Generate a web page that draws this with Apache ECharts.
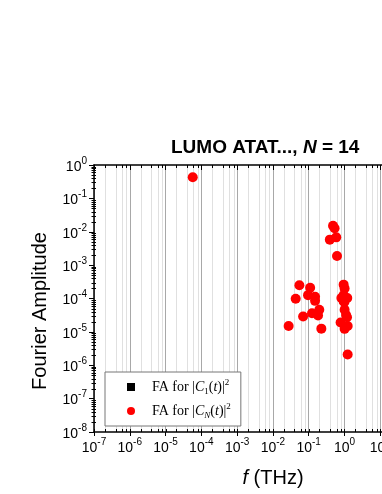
<!DOCTYPE html>
<html><head><meta charset="utf-8">
<script src="https://cdn.jsdelivr.net/npm/echarts@6/dist/echarts.min.js"></script>
<style>html,body{margin:0;padding:0;background:#fff}#c{width:382px;height:494px}</style>
</head><body><div id="c"></div>
<script>
// ---- data ----
const seriesNames = ['FA for |C_1(t)|^2', 'FA for |C_N(t)|^2'];
const freqC1 = [];          // hidden under the red markers / not visible
const amplitudeC1 = [];
const freqCN = [5.75e-5, 0.48, 0.53, 0.39, 0.59, 0.62, 0.055, 0.11, 0.0434, 0.096, 0.151, 0.151, 0.198, 0.124, 0.183, 0.070, 0.0275, 0.226,
  0.95, 1.01, 0.95, 1.0, 0.95, 0.82, 1.2, 1.0, 1.01, 1.11, 1.18, 0.78, 1.23, 1.01, 1.23];
const amplitudeCN = [0.43, 0.0152, 0.0127, 0.0058, 0.0068, 0.00188, 2.5e-4, 2.1e-4, 9.8e-5, 1.26e-4, 1.12e-4, 8.5e-5, 4.6e-5, 3.6e-5, 3.1e-5, 2.9e-5, 1.5e-5, 1.25e-5,
  2.6e-4, 2.0e-4, 1.28e-4, 9.5e-5, 8.1e-5, 1.04e-4, 1.04e-4, 7.9e-5, 4.6e-5, 3.2e-5, 2.75e-5, 1.9e-5, 1.5e-5, 1.23e-5, 2.1e-6];
const xExponents = [-7, -6, -5, -4, -3, -2, -1, 0, 1, 2];
const yExponents = [-8, -7, -6, -5, -4, -3, -2, -1, 0];
const xMinorMultipliers = [2, 4, 6, 8];
const yMinorMultipliers = [2, 3, 4, 5, 6, 7, 8, 9];
const titleParts = ['LUMO ATAT..., ', 'N', ' = 14'];
const yAxisTitle = 'Fourier Amplitude';
const xAxisTitleParts = ['f', ' (THz)'];

// ---- derived ----
const X_MIN = Math.pow(10, xExponents[0]), X_MAX = Math.pow(10, xExponents[xExponents.length - 1]);
const Y_MIN = Math.pow(10, yExponents[0]), Y_MAX = Math.pow(10, yExponents[yExponents.length - 1]);
const SANS = '"Liberation Sans", Arial, sans-serif';
const SERIF = '"Liberation Serif", "Times New Roman", serif';

const xMinor = [];
xExponents.slice(0, -1).forEach(e => xMinorMultipliers.forEach(m => xMinor.push([m * Math.pow(10, e), Y_MIN])));
const xMajor = xExponents.map(e => [Math.pow(10, e), Y_MIN]);
const yMinor = [];
yExponents.slice(0, -1).forEach(e => yMinorMultipliers.forEach(m => yMinor.push([X_MIN, m * Math.pow(10, e)])));

const dataC1 = freqC1.map((f, i) => [f, amplitudeC1[i]]);
const dataCN = freqCN.map((f, i) => [f, amplitudeCN[i]]);

const px = v => Math.round(v) + 0.5;
const tickLabel = v => '{b|10}{e|' + Math.round(Math.log10(v)) + '}';
const tickRich = {
  b: { fontFamily: SANS, fontSize: 14, color: '#000', lineHeight: 18, verticalAlign: 'bottom' },
  e: { fontFamily: SANS, fontSize: 10, color: '#000', lineHeight: 10, verticalAlign: 'top' }
};
const legendRich = {
  n0: { fontFamily: SERIF, fontSize: 14, color: '#000', lineHeight: 18, padding: [0, 0, 0, 12] },
  n: { fontFamily: SERIF, fontSize: 14, color: '#000', lineHeight: 18 },
  i: { fontFamily: SERIF, fontSize: 14, color: '#000', lineHeight: 18, fontStyle: 'italic' },
  sub: { fontFamily: SERIF, fontSize: 9, color: '#000', lineHeight: 9, verticalAlign: 'bottom' },
  subi: { fontFamily: SERIF, fontSize: 9, color: '#000', lineHeight: 9, verticalAlign: 'bottom', fontStyle: 'italic' },
  sup: { fontFamily: SERIF, fontSize: 9, color: '#000', lineHeight: 9, verticalAlign: 'top' }
};
function legendFormat(name) {
  const c1 = name.indexOf('C_1') >= 0;
  return '{n0|FA for |}{i|C}' + (c1 ? '{sub|1}' : '{subi|N}') + '{n|(}{i|t}{n|)|}{sup|2}';
}

const chart = echarts.init(document.getElementById('c'), null, { renderer: 'canvas' });
chart.setOption({
  animation: false,
  backgroundColor: '#fff',
  title: {
    text: '{a|' + titleParts[0] + '}{b|' + titleParts[1] + '}{a|' + titleParts[2] + '}',
    left: 171, top: 138, padding: 0,
    textStyle: { rich: {
      a: { fontFamily: SANS, fontSize: 19, fontWeight: 'bold', color: '#000' },
      b: { fontFamily: SANS, fontSize: 19, fontWeight: 'bold', fontStyle: 'italic', color: '#000' }
    } }
  },
  grid: { left: 94, top: 165, width: 322, height: 267, containLabel: false, outerBoundsMode: 'none' },
  legend: {
    orient: 'vertical', left: 105, top: 372,
    padding: [6, 10, 6, 22], itemGap: 6, itemWidth: 8, itemHeight: 8,
    borderColor: '#777', borderWidth: 1, backgroundColor: '#fff',
    data: [{ name: seriesNames[0], icon: 'rect' }, { name: seriesNames[1], icon: 'circle' }],
    formatter: legendFormat,
    textStyle: { rich: legendRich }
  },
  xAxis: [{
    type: 'log', logBase: 10, min: X_MIN, max: X_MAX, interval: 1, splitNumber: 9,
    axisLine: { lineStyle: { color: '#000', width: 1.5 } },
    axisTick: { show: true, length: 4, lineStyle: { color: '#000', width: 1 } },
    axisLabel: { formatter: tickLabel, rich: tickRich, margin: 5, showMaxLabel: true, showMinLabel: true },
    splitLine: { show: true, lineStyle: { color: '#a8a8a8', width: 1 } },
    minorTick: { show: false }, minorSplitLine: { show: false }
  }, {
    type: 'log', logBase: 10, min: X_MIN, max: X_MAX, interval: 1, splitNumber: 9, position: 'top',
    axisLine: { lineStyle: { color: '#000', width: 1.5 } },
    axisTick: { show: true, inside: true, length: 5, lineStyle: { color: '#000', width: 1 } },
    axisLabel: { show: false }, splitLine: { show: false }
  }],
  yAxis: {
    type: 'log', logBase: 10, min: Y_MIN, max: Y_MAX, interval: 1, splitNumber: 8,
    axisLine: { lineStyle: { color: '#000', width: 1.5 } },
    axisTick: { show: true, length: 5, lineStyle: { color: '#000', width: 1 } },
    axisLabel: { formatter: tickLabel, rich: tickRich, margin: 7, showMaxLabel: true, showMinLabel: true },
    splitLine: { show: false }
  },
  graphic: [{
    type: 'text', x: 40, y: 311, rotation: Math.PI / 2,
    style: { text: yAxisTitle, font: '20px ' + SANS, fill: '#000', textAlign: 'center', textVerticalAlign: 'middle' }
  }, {
    type: 'text', x: 273, y: 478,
    style: {
      text: '{i|' + xAxisTitleParts[0] + '}{n|' + xAxisTitleParts[1] + '}', textAlign: 'center', textVerticalAlign: 'middle',
      rich: {
        i: { fontFamily: SANS, fontSize: 20, fontStyle: 'italic', fill: '#000' },
        n: { fontFamily: SANS, fontSize: 20, fill: '#000' }
      }
    }
  }],
  series: [{
    type: 'custom', silent: true, xAxisIndex: 0, yAxisIndex: 0, z: 1,
    data: xMinor,
    renderItem: (params, api) => {
      const b = api.coord([api.value(0), Y_MIN]);
      const t = api.coord([api.value(0), Y_MAX]);
      const x = px(b[0]);
      return { type: 'group', children: [
        { type: 'line', shape: { x1: x, y1: t[1], x2: x, y2: b[1] }, style: { stroke: '#e0e0e0', lineWidth: 1 } },
        { type: 'line', shape: { x1: x, y1: b[1], x2: x, y2: b[1] - 3 }, style: { stroke: '#000', lineWidth: 1 } },
        { type: 'line', shape: { x1: x, y1: t[1], x2: x, y2: t[1] + 3 }, style: { stroke: '#000', lineWidth: 1 } }
      ] };
    }
  }, {
    type: 'custom', silent: true, xAxisIndex: 0, yAxisIndex: 0, z: 3,
    data: xMajor,
    renderItem: (params, api) => {
      const b = api.coord([api.value(0), Y_MIN]);
      const x = px(b[0]);
      return { type: 'line', shape: { x1: x, y1: b[1], x2: x, y2: b[1] - 3 }, style: { stroke: '#000', lineWidth: 1 } };
    }
  }, {
    type: 'custom', silent: true, xAxisIndex: 0, yAxisIndex: 0, z: 3,
    data: yMinor,
    renderItem: (params, api) => {
      const p = api.coord([X_MIN, api.value(1)]);
      const y = px(p[1]);
      return { type: 'line', shape: { x1: p[0] - 2.5, y1: y, x2: p[0] + 2, y2: y }, style: { stroke: '#000', lineWidth: 1 } };
    }
  }, {
    name: seriesNames[0], type: 'scatter', xAxisIndex: 0, yAxisIndex: 0, z: 4,
    symbol: 'rect', symbolSize: 8, itemStyle: { color: '#000', opacity: 1 }, data: dataC1
  }, {
    name: seriesNames[1], type: 'scatter', xAxisIndex: 0, yAxisIndex: 0, z: 5,
    symbol: 'circle', symbolSize: 10, itemStyle: { color: '#ff0000', opacity: 1 }, data: dataCN
  }]
});
</script>
</body></html>
